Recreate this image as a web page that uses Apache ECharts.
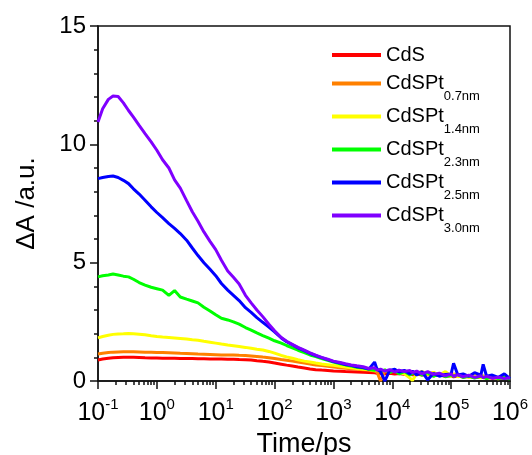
<!DOCTYPE html>
<html><head><meta charset="utf-8">
<script src="https://cdn.jsdelivr.net/npm/echarts@6/dist/echarts.min.js"></script>
<style>html,body{margin:0;padding:0;background:#fff}#c{width:532px;height:455px}</style>
</head><body><div id="c"></div>
<script>
const times = [0.1,0.12,0.15,0.18,0.22,0.27,0.33,0.4,0.5,0.63,0.8,
  1,1.25,1.6,2,2.5,3.2,4,5,6.3,8,
  10,12.5,16,20,25,32,40,50,63,80,
  100,130,160,200,250,320,400,500,630,800,
  1000,1300,1600,2000,2500,3200,4000,5000,5500,6300,7500,9000,
  11000,13000,16000,20000,22000,26000,32000,40000,50000,63000,80000,
  100000,110000,130000,160000,200000,250000,320000,350000,400000,500000,630000,800000,
  1000000];

const cds = [0.89,0.93,0.96,0.98,0.99,1.0,1.0,1.0,0.99,0.98,0.97,
  0.97,0.96,0.96,0.96,0.95,0.95,0.95,0.94,0.94,0.93,
  0.93,0.93,0.92,0.92,0.91,0.9,0.89,0.86,0.83,0.8,
  0.76,0.71,0.67,0.63,0.59,0.55,0.51,0.48,0.46,0.44,
  0.42,0.41,0.4,0.39,0.38,0.37,0.36,0.35,0.33,0.34,0.31,0.33,
  0.3,0.32,0.28,0.3,0.26,0.29,0.25,0.27,0.22,0.25,0.2,
  0.22,0.18,0.21,0.17,0.19,0.15,0.17,0.14,0.16,0.12,0.14,0.11,
  0.12];
const pt07 = [1.14,1.17,1.2,1.22,1.23,1.24,1.24,1.24,1.23,1.22,1.21,
  1.2,1.2,1.19,1.18,1.17,1.16,1.15,1.14,1.13,1.12,
  1.11,1.1,1.1,1.1,1.09,1.08,1.06,1.04,1.01,0.98,
  0.95,0.91,0.88,0.84,0.8,0.76,0.72,0.68,0.65,0.62,
  0.59,0.56,0.54,0.52,0.5,0.48,0.46,0.42,0.38,0.0,0.44,0.4,
  0.46,0.36,0.42,0.33,0.4,0.3,0.38,0.28,0.35,0.24,0.32,
  0.22,0.3,0.2,0.27,0.18,0.25,0.15,0.22,0.14,0.2,0.12,0.17,
  0.15];
const pt14 = [1.82,1.88,1.93,1.97,1.99,2.0,2.01,2.0,1.98,1.95,1.91,
  1.88,1.86,1.84,1.82,1.8,1.77,1.74,1.72,1.68,1.64,
  1.6,1.56,1.52,1.49,1.46,1.42,1.38,1.34,1.31,1.25,
  1.18,1.08,1.02,0.96,0.9,0.84,0.8,0.76,0.72,0.69,
  0.66,0.62,0.59,0.56,0.53,0.5,0.48,0.44,0.5,0.4,0.46,0.38,
  0.45,0.35,0.3,0.12,0.02,0.32,0.4,0.28,0.36,0.25,0.4,
  0.2,0.28,0.18,0.26,0.15,0.22,0.13,0.2,0.1,0.17,0.09,0.14,
  0.1];
const pt23 = [4.4,4.45,4.48,4.52,4.48,4.43,4.4,4.3,4.16,4.05,3.96,
  3.9,3.84,3.62,3.82,3.55,3.46,3.38,3.3,3.12,2.96,
  2.8,2.65,2.58,2.5,2.4,2.26,2.15,2.03,1.92,1.81,
  1.7,1.6,1.5,1.4,1.3,1.2,1.1,1.03,0.95,0.87,
  0.8,0.73,0.68,0.63,0.58,0.55,0.5,0.45,0.52,0.4,0.47,0.36,
  0.43,0.3,0.4,0.26,0.32,0.38,0.25,0.35,0.2,0.3,0.18,
  0.25,0.2,0.28,0.15,0.22,0.12,0.2,0.16,0.1,0.18,0.1,0.15,
  0.08];
const pt25 = [8.55,8.6,8.64,8.66,8.6,8.48,8.34,8.12,7.9,7.64,7.36,
  7.12,6.9,6.65,6.45,6.23,5.95,5.62,5.3,5.0,4.72,
  4.45,4.12,3.84,3.62,3.4,3.1,2.9,2.68,2.48,2.28,
  2.08,1.82,1.66,1.53,1.4,1.28,1.17,1.07,0.99,0.9,
  0.82,0.76,0.7,0.66,0.6,0.57,0.5,0.8,0.5,0.4,0.0,0.45,
  0.5,0.38,0.45,0.3,0.42,0.25,0.4,0.05,0.32,0.2,0.28,
  0.3,0.75,0.25,0.3,0.2,0.35,0.25,0.7,0.2,0.25,0.15,0.3,
  0.1];
const pt30 = [10.94,11.5,11.9,12.04,12.02,11.75,11.43,11.15,10.8,10.45,10.1,
  9.75,9.35,9.0,8.5,8.15,7.62,7.15,6.75,6.3,5.9,
  5.55,5.1,4.65,4.38,4.1,3.62,3.3,3.0,2.72,2.4,
  2.12,1.84,1.68,1.55,1.42,1.3,1.19,1.09,1.0,0.92,
  0.84,0.78,0.73,0.68,0.64,0.6,0.53,0.56,0.46,0.5,0.42,0.48,
  0.38,0.46,0.4,0.44,0.35,0.42,0.3,0.4,0.28,0.33,0.22,
  0.3,0.2,0.27,0.18,0.25,0.15,0.22,0.14,0.2,0.12,0.16,0.1,
  0.14];

const seriesMain = ['CdS','CdSPt','CdSPt','CdSPt','CdSPt','CdSPt'];
const seriesSub = ['','0.7nm','1.4nm','2.3nm','2.5nm','3.0nm'];
const seriesColors = ['#ff0000','#ff8000','#ffff00','#00ff00','#0000ff','#8000ff'];
const seriesValues = [cds, pt07, pt14, pt23, pt25, pt30];

const xMajorTicks = [0.1,1,10,100,1000,10000,100000,1000000];
const yTicks = [0,5,10,15];

const xMinorTicks = [];
for (let d = 0.1; d < 1e6; d *= 10) { for (let k = 2; k <= 9; k++) xMinorTicks.push(+(k*d).toPrecision(3)); }

const FONT = 'Liberation Sans, Arial, sans-serif';
const names = seriesMain.map((m,i)=>m+seriesSub[i]);

const chart = echarts.init(document.getElementById('c'), null, {renderer:'canvas'});
const axisLineStyle = {color:'#111', width:1.5};
chart.setOption({
  animation:false,
  backgroundColor:'#fff',
  grid:{left:98, right:22, top:26, bottom:74, containLabel:false, outerBoundsMode:'none',
    show:true, borderColor:'#111', borderWidth:1.5, backgroundColor:'transparent'},
  legend:{
    orient:'vertical', left:327, top:35, itemWidth:49, itemHeight:4, itemGap:-6, icon:'rect',
    data:names,
    formatter:function(name){ const i=names.indexOf(name); return seriesSub[i] ? '{m|'+seriesMain[i]+'}{s|'+seriesSub[i]+'}' : '{m|'+seriesMain[i]+'}'; },
    textStyle:{fontFamily:FONT, color:'#000', rich:{
      m:{fontSize:20, lineHeight:20, padding:[5,0,5,0], fontFamily:FONT, color:'#000'},
      s:{fontSize:13, lineHeight:14, padding:[26,0,0,0], fontFamily:FONT, color:'#000'}
    }}
  },
  xAxis:[{
    type:'log', logBase:10, min:0.1, max:1000000, position:'bottom',
    name:'Time/ps', nameLocation:'middle', nameGap:48,
    nameTextStyle:{fontFamily:FONT, fontSize:27, color:'#000'},
    axisLine:{show:true, lineStyle:axisLineStyle},
    axisTick:{show:true, inside:false, length:8, lineStyle:axisLineStyle, customValues:xMajorTicks},
    axisLabel:{show:true, margin:16, customValues:xMajorTicks,
      formatter:function(v){ const e=Math.round(Math.log10(v)); return '{b|10}{s|'+e+'}'; },
      rich:{b:{fontSize:25, fontFamily:FONT, color:'#000'}, s:{fontSize:15, fontFamily:FONT, color:'#000', padding:[0,0,18,0]}}},
    splitLine:{show:false}, minorTick:{show:false}
  },{
    type:'log', logBase:10, min:0.1, max:1000000, position:'bottom',
    axisLine:{show:false},
    axisTick:{show:true, inside:false, length:4, lineStyle:axisLineStyle, customValues:xMinorTicks},
    axisLabel:{show:false}, splitLine:{show:false}
  }],
  yAxis:{
    type:'value', min:0, max:15, interval:5,
    name:'\u0394A /a.u.', nameLocation:'middle', nameGap:58, nameRotate:90,
    nameTextStyle:{fontFamily:FONT, fontSize:26, color:'#000'},
    axisLine:{show:true, lineStyle:axisLineStyle},
    axisTick:{show:true, inside:false, length:8, lineStyle:axisLineStyle},
    minorTick:{show:true, splitNumber:5, length:4, lineStyle:axisLineStyle},
    axisLabel:{margin:12, fontFamily:FONT, fontSize:24, color:'#000', customValues:yTicks},
    splitLine:{show:false}, minorSplitLine:{show:false}
  },
  series: seriesValues.map((vals,i)=>({
    name:names[i], type:'line', xAxisIndex:0, symbol:'none', showSymbol:false, smooth:false,
    color:seriesColors[i],
    lineStyle:{color:seriesColors[i], width:3},
    data: times.map((t,j)=>[t, vals[j]]),
    z: 2+i
  }))
});
</script></body></html>
